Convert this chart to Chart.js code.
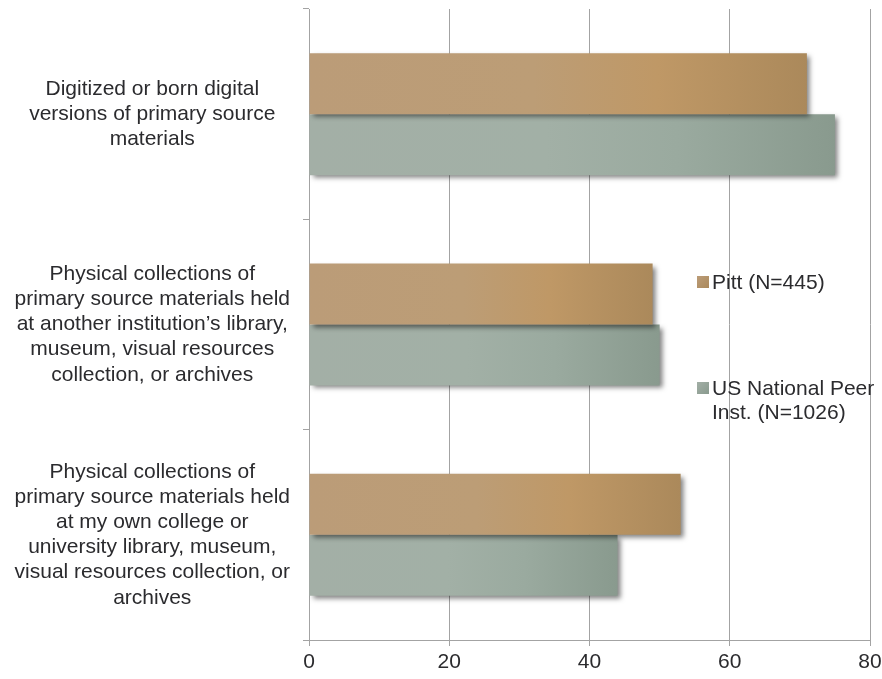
<!DOCTYPE html>
<html>
<head>
<meta charset="utf-8">
<script src="https://cdn.jsdelivr.net/npm/chart.js@4/dist/chart.umd.min.js"></script>
<style>
  html, body { margin: 0; padding: 0; background: #fff; }
  #wrap { width: 882px; height: 679px; }
</style>
</head>
<body>
<div id="wrap"><canvas id="myBarChart"></canvas></div>
<script>
// data
var categories = [
    ["Digitized or born digital", "versions of primary source", "materials"],
    ["Physical collections of", "primary source materials held", "at another institution\u2019s library,", "museum, visual resources", "collection, or archives"],
    ["Physical collections of", "primary source materials held", "at my own college or", "university library, museum,", "visual resources collection, or", "archives"]
];
var pittValues = [71, 49, 53];
var peerValues = [75, 50, 44];
var seriesNames = ["Pitt (N=445)", "US National Peer Inst. (N=1026)"];
var xTicks = [0, 20, 40, 60, 80];

var FONT = "'Liberation Sans', Arial, sans-serif";
var TEXT = '#2b2b2e';
var GRID = '#a3a3a3';

// gradient along each bar (light left, highlight, darker right)
var pittStops = ['#bb9c78', '#bc9d76', '#bf9866', '#ab895b'];
var peerStops = ['#a3afa6', '#a2b0a6', '#9aaa9f', '#899a8e'];

function barGradient(stops) {
    return function (c) {
        var chart = c.chart;
        if (!chart.chartArea || c.parsed === undefined) return stops[0];
        var x = chart.scales.x;
        var x0 = x.getPixelForValue(0);
        var x1 = x.getPixelForValue(c.parsed.x);
        if (x1 - x0 < 1) return stops[0];
        var g = chart.ctx.createLinearGradient(x0, 0, x1, 0);
        g.addColorStop(0, stops[0]);
        g.addColorStop(0.45, stops[1]);
        g.addColorStop(0.7, stops[2]);
        g.addColorStop(1, stops[3]);
        return g;
    };
}

// drop shadow under the bars
var shadowPlugin = {
    id: 'barShadow',
    beforeDatasetsDraw: function (chart) {
        var ctx = chart.ctx;
        ctx.save();
        ctx.shadowColor = 'rgba(0,0,0,0.5)';
        ctx.shadowBlur = 5;
        ctx.shadowOffsetX = 3;
        ctx.shadowOffsetY = 3;
    },
    afterDatasetsDraw: function (chart) {
        chart.ctx.restore();
    }
};

// legend drawn inside the plot, like the original
var legendPlugin = {
    id: 'innerLegend',
    afterDraw: function (chart) {
        var ctx = chart.ctx;
        var items = [
            { lines: [seriesNames[0]], stops: pittStops, y: 276 },
            { lines: ["US National Peer", "Inst. (N=1026)"], stops: peerStops, y: 382 }
        ];
        ctx.save();
        ctx.font = '21px ' + FONT;
        ctx.textBaseline = 'middle';
        ctx.textAlign = 'left';
        items.forEach(function (it) {
            var g = ctx.createLinearGradient(697, it.y, 709, it.y + 12);
            g.addColorStop(0, it.stops[0]);
            g.addColorStop(1, it.stops[3]);
            ctx.fillStyle = g;
            ctx.fillRect(697, it.y, 12, 12);
            ctx.fillStyle = TEXT;
            it.lines.forEach(function (t, i) {
                ctx.fillText(t, 712, it.y + 7 + i * 24);
            });
        });
        ctx.restore();
    }
};

var ctx = document.getElementById("myBarChart");
var myBarChart = new Chart(ctx, {
    type: 'bar',
    data: {
        labels: categories,
        datasets: [{
            label: seriesNames[0],
            data: pittValues,
            backgroundColor: barGradient(pittStops),
            borderWidth: 0,
            categoryPercentage: 0.58,
            barPercentage: 1.0
        }, {
            label: seriesNames[1],
            data: peerValues,
            backgroundColor: barGradient(peerStops),
            borderWidth: 0,
            categoryPercentage: 0.58,
            barPercentage: 1.0
        }]
    },
    options: {
        indexAxis: 'y',
        responsive: true,
        maintainAspectRatio: false,
        animation: false,
        layout: { padding: { top: 9, right: 12, left: 0, bottom: 4 } },
        plugins: {
            legend: { display: false },
            tooltip: { enabled: false }
        },
        scales: {
            x: {
                min: 0,
                max: 80,
                afterBuildTicks: function (axis) {
                    axis.ticks = xTicks.map(function (v) { return { value: v }; });
                },
                afterFit: function (axis) {
                    axis.height = 35;
                    axis.paddingLeft = 0;
                    axis.paddingRight = 0;
                },
                grid: { color: GRID, lineWidth: 1, tickLength: 6 },
                border: { color: GRID, width: 1 },
                ticks: {
                    color: TEXT,
                    padding: 4,
                    maxRotation: 0,
                    font: { family: FONT, size: 21 }
                }
            },
            y: {
                afterFit: function (axis) {
                    axis.width = 309;
                    axis.paddingTop = 0;
                    axis.paddingBottom = 0;
                },
                grid: {
                    drawOnChartArea: false,
                    drawTicks: true,
                    tickLength: 6,
                    color: GRID,
                    offset: true
                },
                border: { color: GRID, width: 1 },
                ticks: {
                    color: TEXT,
                    crossAlign: 'center',
                    padding: 13,
                    autoSkip: false,
                    font: { family: FONT, size: 21, lineHeight: 1.2 }
                }
            }
        }
    },
    plugins: [shadowPlugin, legendPlugin]
});
</script>
</body>
</html>
